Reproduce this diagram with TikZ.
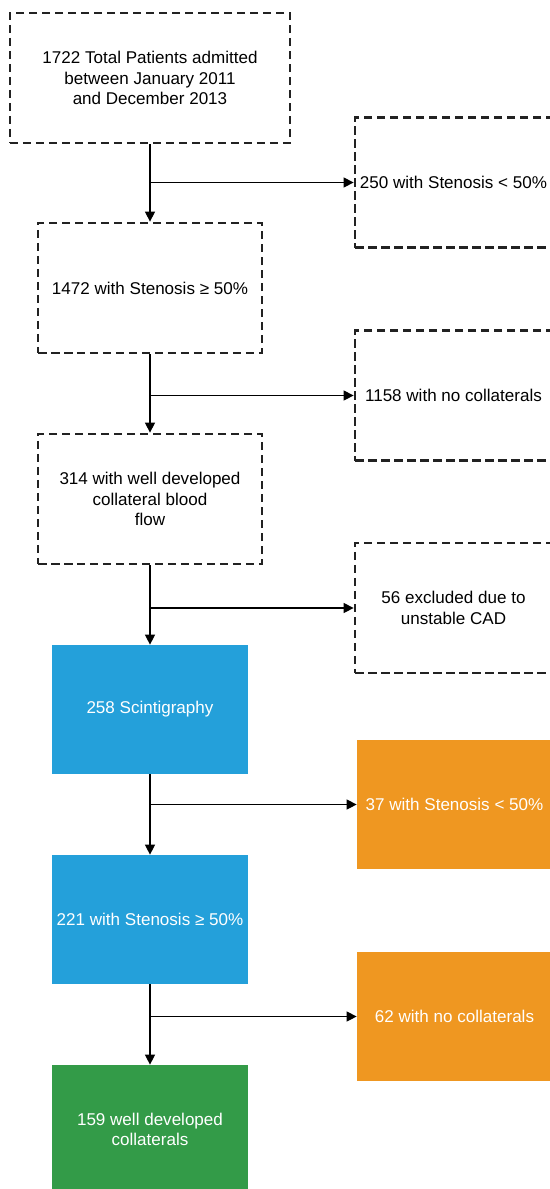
\documentclass[tikz,border=0pt]{standalone}
\usepackage{fontspec}
\setmainfont{Liberation Sans}
\usetikzlibrary{arrows.meta}

\definecolor{dashgray}{HTML}{222222}
\definecolor{scintblue}{HTML}{24A0DA}
\definecolor{exclorange}{HTML}{EF9721}
\definecolor{finalgreen}{HTML}{339B48}

\tikzset{
	dashbox/.style={draw=dashgray, line width=0.055cm, dash pattern=on 0.17cm off 0.09cm, align=center, inner sep=0pt, minimum height=2.6cm},
	colbox/.style={fill=#1, text=white, align=center, inner sep=0pt, minimum width=3.92cm, minimum height=2.58cm},
	flowarr/.style={line width=0.022cm, -{Triangle[length=0.2cm,width=0.2cm]}}
}

\begin{document}
\begin{tikzpicture}[font=\fontsize{9.7pt}{11.7pt}\selectfont]
		%%%%% START %%%%%
		\useasboundingbox (0, 0) rectangle (11, -23.78);
		
		% main column
		\node[dashbox, minimum width=5.6cm] (total) at (3, -1.56) {1722 Total Patients admitted\\between January 2011\\and December 2013};
		\node[dashbox, minimum width=4.48cm] (sten) at (3, -5.76) {1472 with Stenosis ≥ 50\%};
		\node[dashbox, minimum width=4.48cm] (welldev) at (3, -9.98) {314 with well developed\\collateral blood\\flow};
		\node[colbox=scintblue] (scint) at (3, -14.19) {258 Scintigraphy};
		\node[colbox=scintblue] (scintsten) at (3, -18.39) {221 with Stenosis ≥ 50\%};
		\node[colbox=finalgreen] (final) at (3, -22.59) {159 well developed\\collaterals};
		
		% excluded column
		\node[dashbox, minimum width=3.94cm] (lowsten) at (9.07, -3.65) {250 with Stenosis < 50\%};
		\node[dashbox, minimum width=3.94cm] (nocoll) at (9.07, -7.91) {1158 with no collaterals};
		\node[dashbox, minimum width=3.94cm] (unstable) at (9.07, -12.16) {56 excluded due to\\unstable CAD};
		\node[colbox=exclorange, minimum width=3.9cm] (scintlow) at (9.09, -16.09) {37 with Stenosis < 50\%};
		\node[colbox=exclorange, minimum width=3.9cm] (scintnocoll) at (9.09, -20.33) {62 with no collaterals};
		
		% arrows down
		\draw[flowarr] (total) -- (sten);
		\draw[flowarr] (sten) -- (welldev);
		\draw[flowarr] (welldev) -- (scint);
		\draw[flowarr] (scint) -- (scintsten);
		\draw[flowarr] (scintsten) -- (final);
		
		% arrows right
		\draw[flowarr] (total.south |- lowsten.west) -- (lowsten.west);
		\draw[flowarr] (sten.south |- nocoll.west) -- (nocoll.west);
		\draw[flowarr] (welldev.south |- unstable.west) -- (unstable.west);
		\draw[flowarr] (scint.south |- scintlow.west) -- (scintlow.west);
		\draw[flowarr] (scintsten.south |- scintnocoll.west) -- (scintnocoll.west);
		
		%%%%% END %%%%%
	\end{tikzpicture}
\end{document}
